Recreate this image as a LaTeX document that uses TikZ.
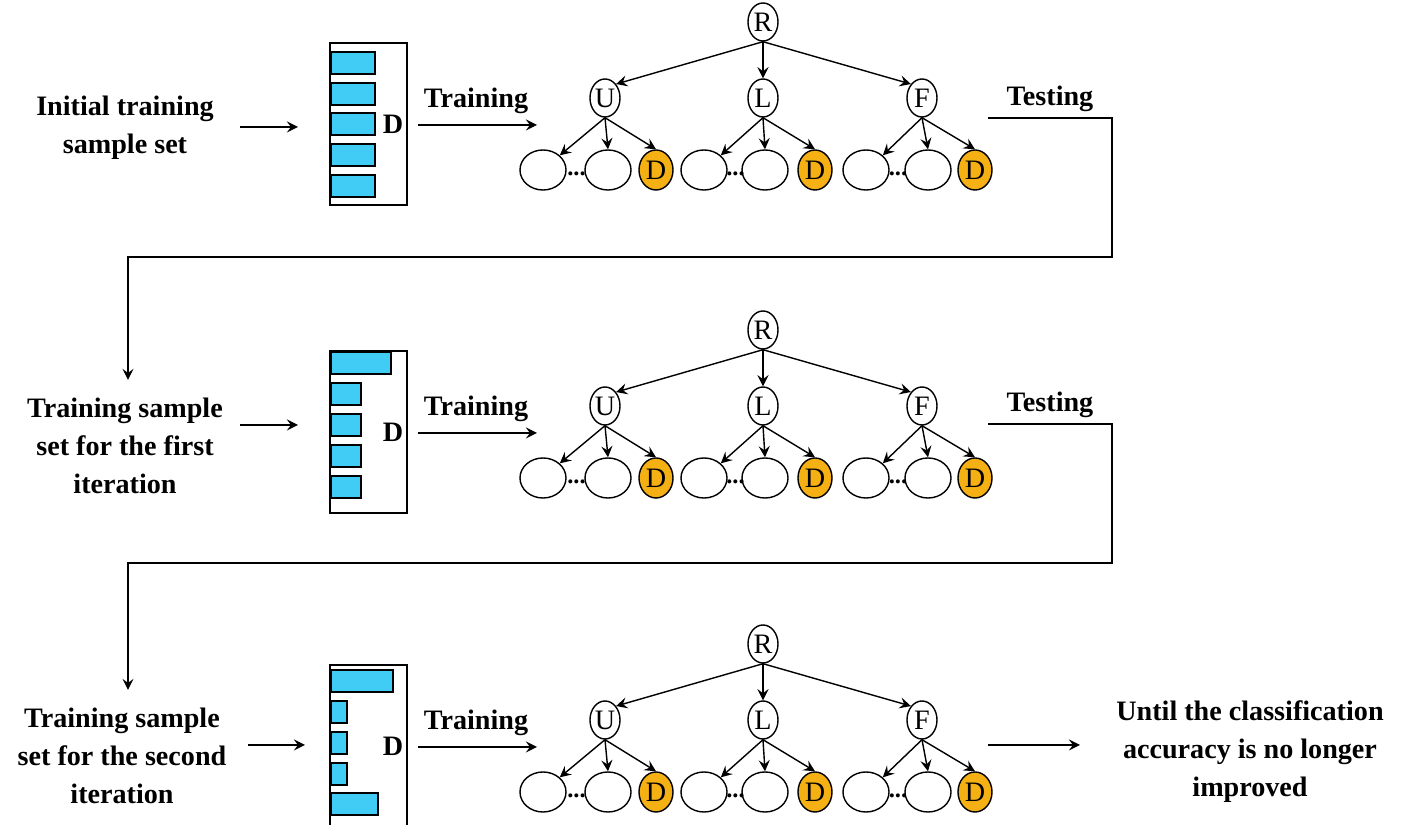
\documentclass[tikz,border=0pt]{standalone}
\usepackage{fontspec}
\setmainfont{Liberation Serif}
\usetikzlibrary{shapes.geometric}
\definecolor{dor}{RGB}{245,176,20}
\definecolor{bcy}{RGB}{64,204,245}
\begin{document}
\begin{tikzpicture}[x=0.01cm,y=-0.01cm,>=stealth,
  nd/.style={draw,ellipse,minimum width=0.30cm,minimum height=0.38cm,inner sep=0pt,font=\fontsize{8}{9}\selectfont},
  lf/.style={nd,minimum width=0.46cm,minimum height=0.40cm},
  dd/.style={lf,minimum width=0.34cm,fill=dor},
  bar/.style={draw,fill=bcy},
  lbl/.style={font=\bfseries\fontsize{8}{10.8}\selectfont,align=center},
  arr/.style={->,thin}]
\useasboundingbox (0,0) rectangle (1408,825);
\foreach \r/\dy in {1/0,2/308,3/622}{
  \begin{scope}[yshift=-\dy*0.01cm]
  \node[nd] (R\r) at (763,22) {R};
  \node[nd] (U\r) at (605,98) {U};
  \node[nd] (L\r) at (763,98) {L};
  \node[nd] (F\r) at (922,98) {F};
  \foreach \p/\a/\b/\c in {U/543/608/656,L/704/765/815,F/866/928/975}{
    \node[lf] (\p a\r) at (\a,170) {};
    \node[lf] (\p b\r) at (\b,170) {};
    \node[dd] (\p c\r) at (\c,170) {D};
    \node[font=\bfseries\fontsize{7}{8}\selectfont] (\p d\r) at ({(\a+\b)/2+1},174) {...};
    \draw[arr] (\p\r.south) -- (\p a\r.north east);
    \draw[arr] (\p\r.south) -- (\p b\r.north);
    \draw[arr] (\p\r.south) -- (\p c\r.north);
  }
  \draw[arr] (R\r.south) -- (U\r.north east);
  \draw[arr] (R\r.south) -- (L\r.north);
  \draw[arr] (R\r.south) -- (F\r.north west);
  \node[lbl] (T\r) at (476,101) {Training};
  \coordinate (ts\r) at (418,125);
  \coordinate (te\r) at (537,125);
  \draw[arr] (ts\r) -- (te\r);
  \node[draw,minimum width=0.77cm,minimum height=1.62cm,inner sep=0pt] (B\r) at (368.5,124) {};
  \node[lbl] (BD\r) at (393,124) {D};
  \end{scope}
}
% bars
\foreach \y/\w in {52/44,83/44,113/44,144/44,175/44}{\draw[bar] (331,\y) rectangle ++(\w,22);}
\foreach \y/\w in {352/60,383/30,414/30,445/30,476/30}{\draw[bar] (331,\y) rectangle ++(\w,22);}
\foreach \y/\w in {670/62,701/16,732/16,763/16,793/47}{\draw[bar] (331,\y) rectangle ++(\w,22);}
% left texts
\node[lbl] (S1) at (125,128) {Initial training\\sample set};
\node[lbl] (S2) at (125,446) {Training sample\\set for the first\\iteration};
\node[lbl] (S3) at (122,756) {Training sample\\set for the second\\iteration};
\node[lbl] (S4) at (1250,752) {Until the classification\\accuracy is no longer\\improved};
\coordinate (p1) at (240,127); \coordinate (q1) at (298,127);
\coordinate (p2) at (240,425); \coordinate (q2) at (298,425);
\coordinate (p3) at (248,745); \coordinate (q3) at (305,745);
\coordinate (p4) at (988,745); \coordinate (q4) at (1080,745);
\foreach \i in {1,2,3,4}{\draw[arr] (p\i) -- (q\i);}
% testing loops
\node[lbl] (X1) at (1050,99) {Testing};
\node[lbl] (X2) at (1050,405) {Testing};
\coordinate (a1) at (988,118); \coordinate (b1) at (1112,257); \coordinate (c1) at (128,380);
\draw[arr] (a1) -- (a1-|b1) -- (b1) -- (b1-|c1) -- (c1);
\coordinate (a2) at (988,424); \coordinate (b2) at (1112,563); \coordinate (c2) at (128,690);
\draw[arr] (a2) -- (a2-|b2) -- (b2) -- (b2-|c2) -- (c2);
\end{tikzpicture}
\end{document}
